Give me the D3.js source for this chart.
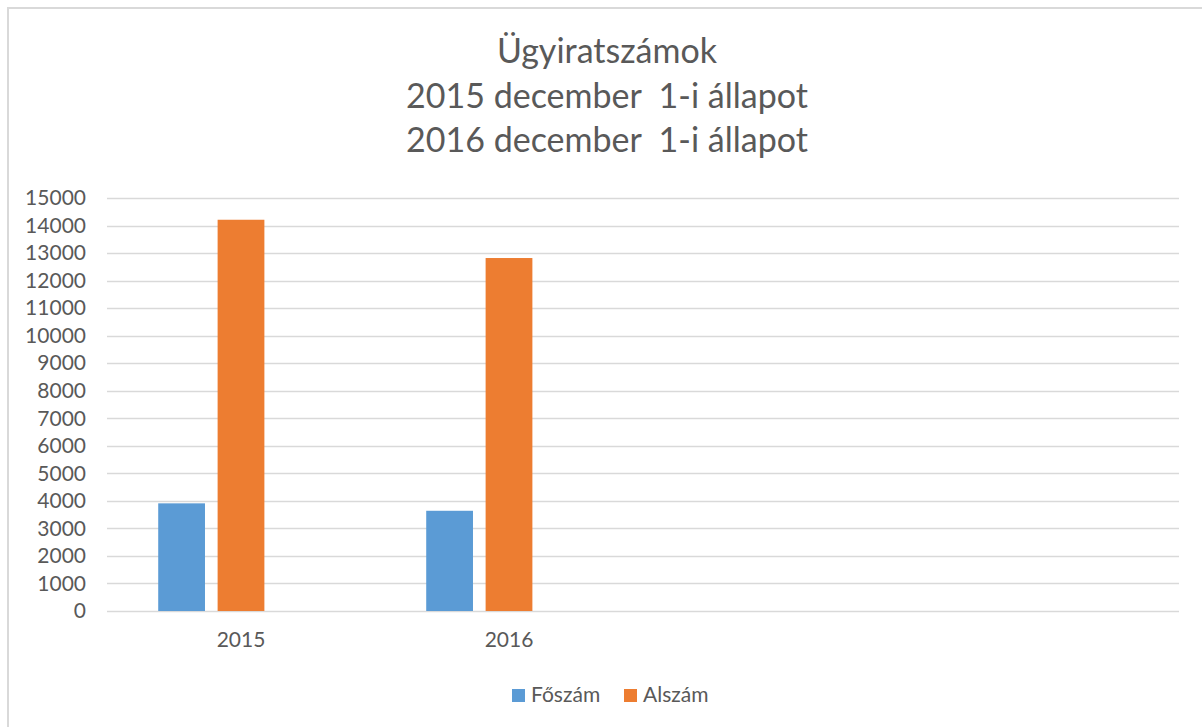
<!DOCTYPE html>
<html>
<head>
<meta charset="utf-8">
<script src="https://cdn.jsdelivr.net/npm/d3@7"></script>
<style>
  html, body { margin: 0; padding: 0; background: #ffffff; }
  svg { display: block; }
  text { font-family: "Lato", "Open Sans", sans-serif; fill: #595959; }
</style>
</head>
<body>
<svg id="chart" width="1202" height="727"></svg>
<script>
// ---- data ----
const titleLines = ["Ügyiratszámok", "2015 december  1-i állapot", "2016 december  1-i állapot"];
const categories = ["2015", "2016", "", ""];
const seriesNames = ["Főszám", "Alszám"];
const foszam = [3910, 3640];
const alszam = [14210, 12820];
const yTicks = [0, 1000, 2000, 3000, 4000, 5000, 6000, 7000, 8000, 9000, 10000, 11000, 12000, 13000, 14000, 15000];
const colors = ["#5b9bd5", "#ed7d31"];

const seriesValues = [foszam, alszam];

const svg = d3.select("#chart");
const W = 1202, H = 727;
const plot = { left: 107, right: 1179, top: 198, bottom: 611 };
const labelSize = 21;

// outer border
svg.append("rect")
  .attr("x", 8).attr("y", 8)
  .attr("width", W + 10).attr("height", H + 10)
  .attr("fill", "none").attr("stroke", "#d9d9d9").attr("stroke-width", 2);

// title
const title = svg.append("text")
  .attr("text-anchor", "middle")
  .attr("font-size", 34)
  .style("white-space", "pre");
titleLines.forEach((t, i) => {
  title.append("tspan").attr("x", 607).attr("y", 63 + i * 44.5).text(t);
});

// scales
const y = d3.scaleLinear().domain([0, 15000]).range([plot.bottom, plot.top]);
const x0 = d3.scaleBand().domain(d3.range(categories.length)).range([plot.left, plot.right]).padding(0);
const C = x0.bandwidth();
const w = C / 5.73;
const x1 = d3.scaleBand().domain([0, 1, 2])
  .range([2.19 * w / 2, C - 2.19 * w / 2])
  .paddingInner(0.27 / 1.27).paddingOuter(0);

// gridlines
svg.append("g")
  .selectAll("line").data(yTicks).join("line")
  .attr("x1", plot.left).attr("x2", plot.right)
  .attr("y1", d => Math.round(y(d)) + 0.5).attr("y2", d => Math.round(y(d)) + 0.5)
  .attr("stroke", "#d9d9d9").attr("stroke-width", 1.3);

// y axis labels
const yAxis = d3.axisLeft(y).tickValues(yTicks).tickSize(0).tickPadding(0).tickFormat(d3.format("d"));
const gy = svg.append("g").attr("transform", `translate(86,0)`).call(yAxis);
gy.select(".domain").remove();
gy.selectAll("text").attr("font-size", labelSize).attr("fill", "#595959")
  .style("font-family", "Lato, 'Open Sans', sans-serif");

// x axis labels
const xAxis = d3.axisBottom(x0).tickSize(0).tickPadding(0).tickFormat(i => categories[i]);
const gx = svg.append("g").attr("transform", `translate(0,${plot.bottom + 21})`).call(xAxis);
gx.select(".domain").remove();
gx.selectAll("text").attr("font-size", labelSize).attr("fill", "#595959")
  .style("font-family", "Lato, 'Open Sans', sans-serif");

// bars
seriesValues.forEach((vals, s) => {
  svg.append("g").selectAll("rect").data(vals).join("rect")
    .attr("x", (d, i) => x0(i) + x1(s))
    .attr("y", d => y(d))
    .attr("width", x1.bandwidth())
    .attr("height", d => y(0) - y(d))
    .attr("fill", colors[s]);
});

// legend
const legendItems = [
  { name: seriesNames[0], color: colors[0], x: 512 },
  { name: seriesNames[1], color: colors[1], x: 624 }
];
const lg = svg.append("g");
legendItems.forEach(it => {
  lg.append("rect").attr("x", it.x).attr("y", 689).attr("width", 13).attr("height", 13).attr("fill", it.color);
  lg.append("text").attr("x", it.x + 19).attr("y", 702).attr("font-size", labelSize).text(it.name);
});
</script>
</body>
</html>
